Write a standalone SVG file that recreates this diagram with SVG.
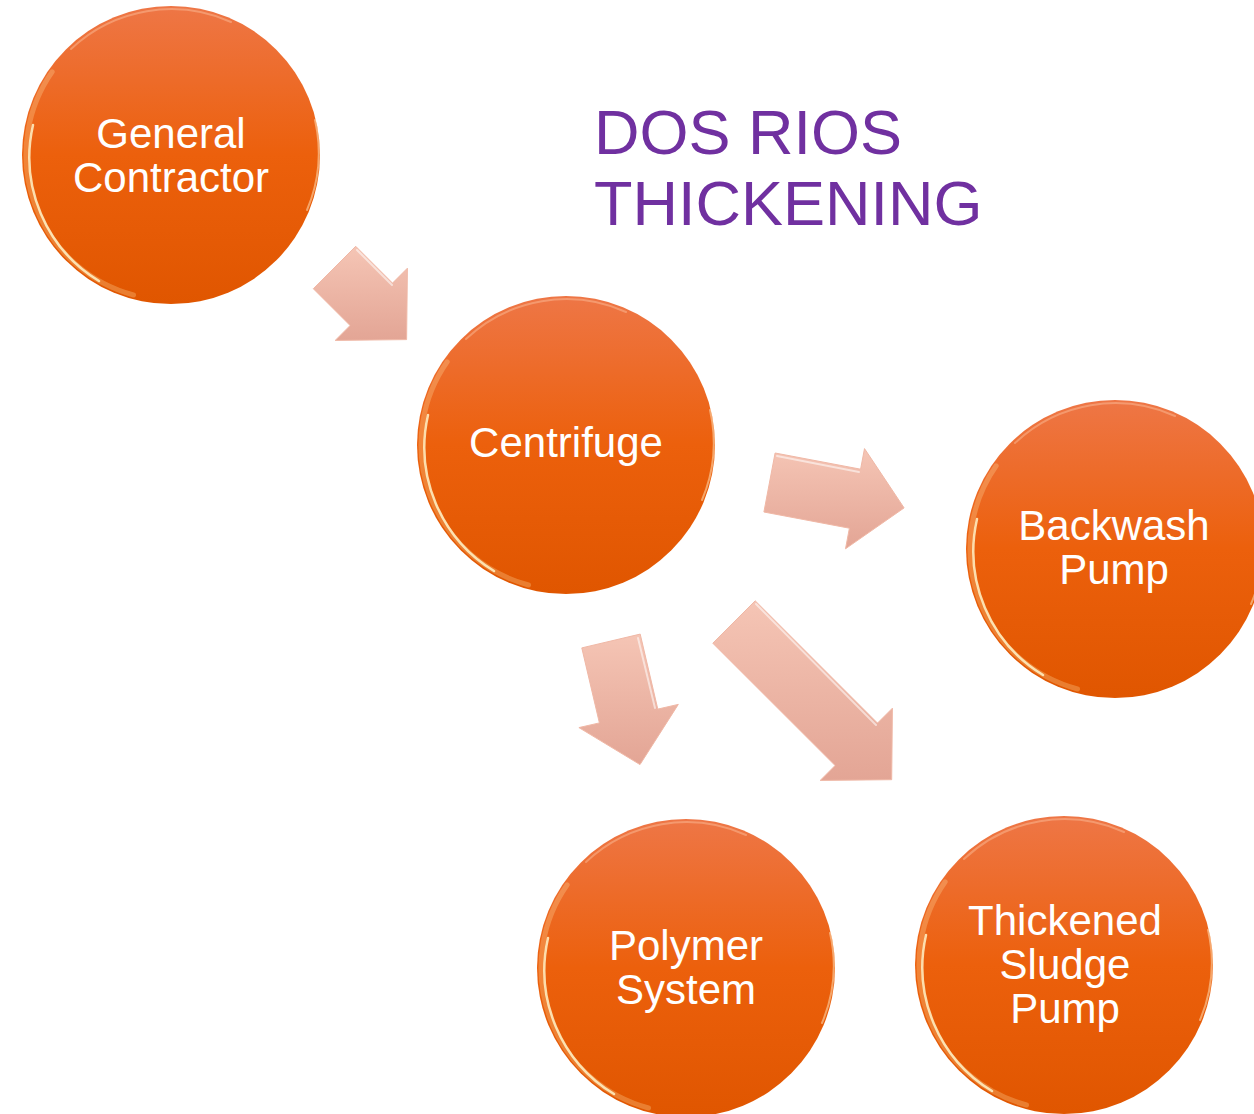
<svg xmlns="http://www.w3.org/2000/svg" xmlns:xlink="http://www.w3.org/1999/xlink" width="1254" height="1114" viewBox="0 0 1254 1114">
  <style>
    .lbl { font-family: "Liberation Sans", Arial, sans-serif; font-size: 42px; fill: #FFFFFF; text-anchor: middle; }
    .title { font-family: "Liberation Sans", Arial, sans-serif; font-size: 63px; fill: #7030A0; }
    .arrow { fill: url(#arrowFill); stroke: #F0B8A6; stroke-width: 1; stroke-linejoin: miter; }
    .hl { fill: none; stroke: #FFFFFF; stroke-opacity: 0.55; stroke-width: 2; stroke-linecap: round; }
  </style>
  <defs>
    <linearGradient id="orange" x1="0" y1="0" x2="0" y2="1">
      <stop offset="0" stop-color="#EE7646"/>
      <stop offset="0.5" stop-color="#EC600C"/>
      <stop offset="1" stop-color="#E05600"/>
    </linearGradient>
    <linearGradient id="arrowFill" x1="0" y1="0" x2="0" y2="1">
      <stop offset="0" stop-color="#F5C5B5"/>
      <stop offset="1" stop-color="#E3A595"/>
    </linearGradient>
    <g id="ball">
      <circle r="149" fill="url(#orange)"/>
      <path d="M -37.5 140 A 145 145 0 0 1 -118.8 -83.2" fill="none" stroke="#FFD9A0" stroke-width="5" stroke-opacity="0.3" stroke-linecap="round"/>
      <path d="M -72 126 A 145 145 0 0 1 -138 -30" fill="none" stroke="#FFF3C8" stroke-width="2.5" stroke-opacity="0.85" stroke-linecap="round"/>
      <path d="M 144 -35 A 147 147 0 0 1 136 55" fill="none" stroke="#FFE0B8" stroke-width="2" stroke-opacity="0.55" stroke-linecap="round"/>
      <path d="M -100 -106 A 146 146 0 0 1 60 -133" fill="none" stroke="#FFD0B0" stroke-width="2" stroke-opacity="0.4" stroke-linecap="round"/>
    </g>
  </defs>

  <rect width="1254" height="1114" fill="#FFFFFF"/>

  <g id="title">
    <text class="title" x="594" y="154">DOS RIOS</text>
    <text class="title" x="594" y="225">THICKENING</text>
  </g>

  <g id="connectors">
    <polygon class="arrow" points="355.7,246.3 392.5,283.1 407.4,268.2 406.6,339.6 335.2,340.4 350.1,325.5 313.3,288.7"/>
    <polyline class="hl" points="357,250 392,285"/>
    <polygon class="arrow" points="775.1,453.0 860.6,469.2 864.5,448.6 904.1,507.9 845.5,548.8 849.4,528.2 763.9,512.0"/>
    <polyline class="hl" points="777,456 859,472"/>
    <polygon class="arrow" points="640.2,634.1 657.8,709.1 678.3,704.4 640.0,764.6 578.9,727.6 599.4,722.9 581.8,647.9"/>
    <polyline class="hl" points="638,638 655,708"/>
    <polygon class="arrow" points="755.2,600.8 877.5,723.1 892.4,708.2 891.7,779.7 820.2,780.4 835.1,765.5 712.8,643.2"/>
    <polyline class="hl" points="756,604 876,725"/>
  </g>

  <g id="node-general-contractor">
    <use xlink:href="#ball" href="#ball" x="171" y="155"/>
    <text class="lbl" x="171" y="148">General</text>
    <text class="lbl" x="171" y="192">Contractor</text>
  </g>

  <g id="node-centrifuge">
    <use xlink:href="#ball" href="#ball" x="566" y="445"/>
    <text class="lbl" x="566" y="457">Centrifuge</text>
  </g>

  <g id="node-backwash-pump">
    <use xlink:href="#ball" href="#ball" x="1115" y="549"/>
    <text class="lbl" x="1114" y="540">Backwash</text>
    <text class="lbl" x="1114" y="584">Pump</text>
  </g>

  <g id="node-polymer-system">
    <use xlink:href="#ball" href="#ball" x="686" y="968"/>
    <text class="lbl" x="686" y="960">Polymer</text>
    <text class="lbl" x="686" y="1004">System</text>
  </g>

  <g id="node-thickened-sludge-pump">
    <use xlink:href="#ball" href="#ball" x="1064" y="965"/>
    <text class="lbl" x="1065" y="935">Thickened</text>
    <text class="lbl" x="1065" y="979">Sludge</text>
    <text class="lbl" x="1065" y="1023">Pump</text>
  </g>
</svg>
